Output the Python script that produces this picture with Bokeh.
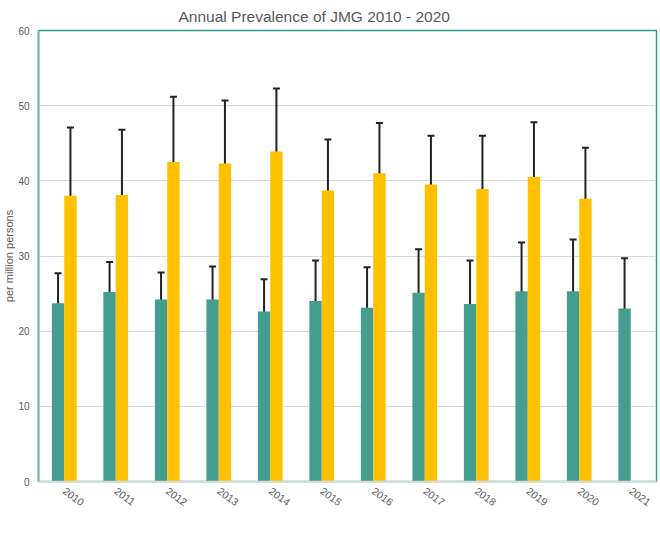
from bokeh.plotting import figure
from bokeh.models import (ColumnDataSource, Whisker, Legend, LegendItem, TeeHead,
                          Range1d, FixedTicker)
from bokeh.transform import dodge
from bokeh.embed import file_html
from bokeh.resources import INLINE

years = ["2010", "2011", "2012", "2013", "2014", "2015", "2016", "2017", "2018", "2019", "2020", "2021"]
ccae = [23.7, 25.2, 24.2, 24.2, 22.6, 24.0, 23.1, 25.1, 23.6, 25.3, 25.3, 23.0]
ccae_low = [20.3, 21.7, 21.0, 20.5, 19.2, 19.6, 18.9, 20.3, 19.0, 20.2, 19.9, 17.9]
ccae_high = [27.7, 29.2, 27.8, 28.6, 26.9, 29.4, 28.5, 30.9, 29.4, 31.8, 32.2, 29.7]
mdcd_years = ["2010", "2011", "2012", "2013", "2014", "2015", "2016", "2017", "2018", "2019", "2020"]
mdcd = [38.0, 38.1, 42.5, 42.3, 43.9, 38.7, 41.0, 39.5, 38.9, 40.5, 37.6]
mdcd_low = [30.8, 31.2, 35.3, 35.3, 37.0, 32.9, 35.3, 34.0, 33.0, 34.3, 31.9]
mdcd_high = [47.1, 46.8, 51.2, 50.7, 52.3, 45.5, 47.7, 46.0, 46.0, 47.8, 44.4]

TEAL = "#439e90"
GOLD = "#ffc000"
GREY = "#595959"
FONT = "Liberation Sans"

src_c = ColumnDataSource(dict(year=years, x=[years.index(y) for y in years],
                              v=ccae, lo=ccae_low, hi=ccae_high))
src_m = ColumnDataSource(dict(year=mdcd_years, x=[years.index(y) for y in mdcd_years],
                              v=mdcd, lo=mdcd_low, hi=mdcd_high))

n = len(years)
p = figure(frame_width=618, frame_height=451, x_range=Range1d(-0.5, n - 0.5),
           y_range=(0, 60), output_backend="svg", toolbar_location=None,
           title="Annual Prevalence of JMG  2010 - 2020",
           min_border_left=0, min_border_right=2, min_border_top=0, min_border_bottom=0)

p.title.align = "left"
p.title.offset = 140
p.title.text_font = FONT
p.title.text_font_size = "15.5px"
p.title.text_font_style = "normal"
p.title.text_color = GREY
p.title.standoff = 11

w = 0.24
r1 = p.vbar(x=dodge("x", -0.12), top="v", width=w, source=src_c,
            fill_color=TEAL, line_color=None)
r2 = p.vbar(x=dodge("x", 0.12), top="v", width=w, source=src_m,
            fill_color=GOLD, line_color=None)

for src, off in ((src_c, -0.12), (src_m, 0.12)):
    wh = Whisker(base=dodge("x", off), lower="lo", upper="hi", source=src,
                 line_color="#222222", line_width=2,
                 upper_head=TeeHead(size=7, line_color="#222222", line_width=2),
                 lower_head=TeeHead(size=7, line_color="#222222", line_width=2))
    p.add_layout(wh)

p.outline_line_color = "#2a9d8a"
p.outline_line_width = 1.5
p.outline_line_alpha = 1

p.xgrid.grid_line_color = None
p.ygrid.grid_line_color = "#d9d9d9"
p.yaxis.ticker = [0, 10, 20, 30, 40, 50, 60]

p.yaxis.axis_label = "per million persons"
p.yaxis.axis_label_text_font = FONT
p.yaxis.axis_label_text_font_size = "11px"
p.yaxis.axis_label_text_font_style = "normal"
p.yaxis.axis_label_text_color = GREY
p.yaxis.axis_label_standoff = 0
p.yaxis.major_label_text_font = FONT
p.yaxis.major_label_text_font_size = "10px"
p.yaxis.major_label_text_color = GREY
p.yaxis.major_label_standoff = 3
p.yaxis.major_tick_line_color = None
p.yaxis.minor_tick_line_color = None
p.yaxis.axis_line_color = "#7cbdb3"
p.yaxis.axis_line_width = 2

p.xaxis.ticker = FixedTicker(ticks=list(range(n)))
p.xaxis.major_label_overrides = {i: y for i, y in enumerate(years)}
p.xaxis.major_label_orientation = -0.63
p.xaxis.major_label_text_font = FONT
p.xaxis.major_label_text_font_size = "10.5px"
p.xaxis.major_label_text_color = GREY
p.xaxis.major_label_standoff = 2
p.xaxis.major_tick_line_color = None
p.xaxis.minor_tick_line_color = None
p.xaxis.axis_line_color = "#d9d9d9"
p.xaxis.axis_line_width = 1.5

legend = Legend(items=[LegendItem(label="CCAE", renderers=[r1]),
                       LegendItem(label="MDCD", renderers=[r2])],
                orientation="horizontal", location=(238, 9),
                label_text_font=FONT, label_text_font_size="10px", label_text_color=GREY,
                glyph_width=7, glyph_height=7, spacing=6, label_standoff=2,
                padding=1, margin=0, border_line_color=None, background_fill_alpha=0)
p.add_layout(legend, "below")

open("out.html", "w").write(file_html(p, INLINE))
